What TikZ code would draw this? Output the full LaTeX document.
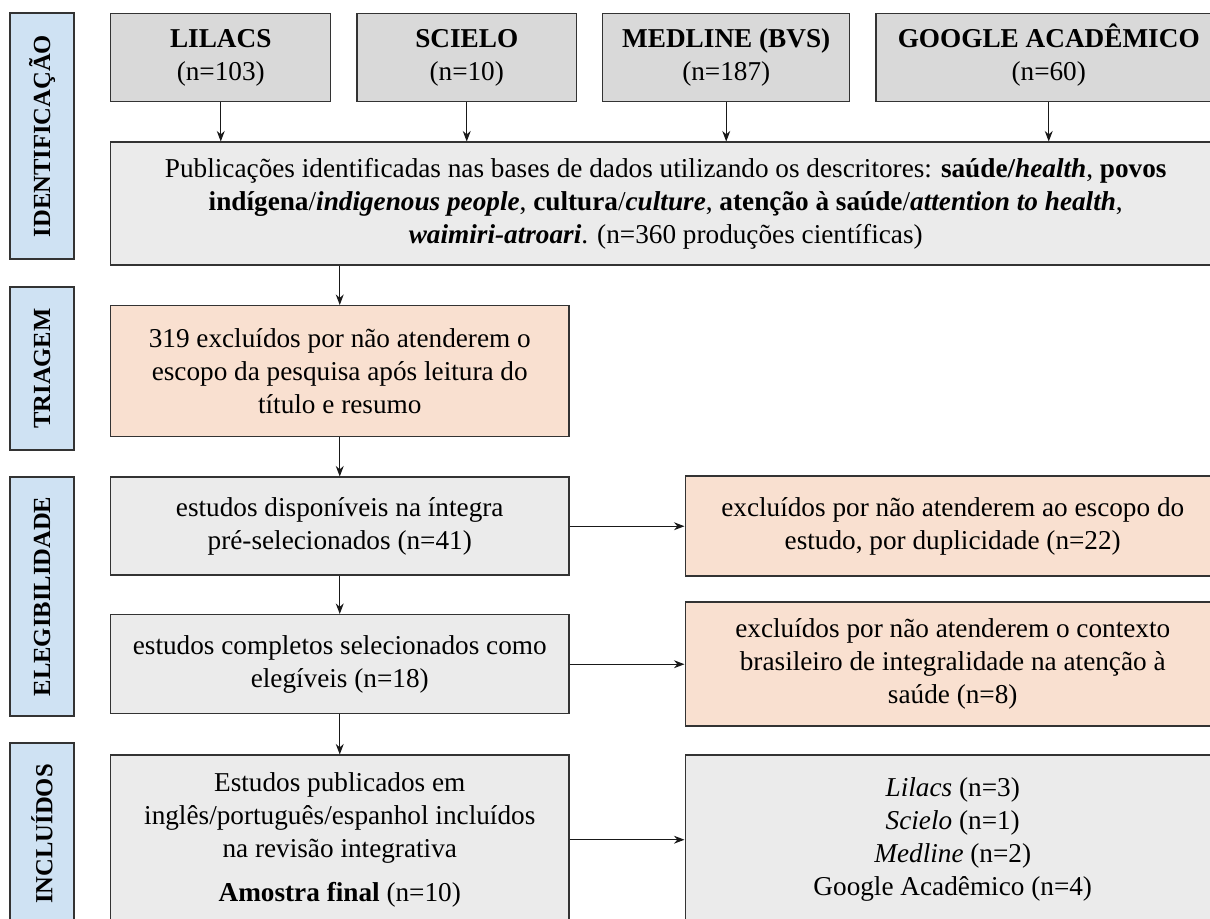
\documentclass[tikz,border=0pt]{standalone}
\usepackage{fontspec}
\setmainfont{Liberation Serif}
\usetikzlibrary{positioning,arrows.meta}

\definecolor{phasefill}{HTML}{CFE2F3}
\definecolor{dbfill}{HTML}{D9D9D9}
\definecolor{stepfill}{HTML}{EBEBEB}
\definecolor{exclfill}{HTML}{F9E0D0}
\definecolor{edgecol}{HTML}{333333}

\begin{document}
\begin{tikzpicture}[
        node distance=0.5cm,
        box/.style={rectangle, draw=edgecol, line width=0.85pt, align=center, inner sep=2pt, font=\fontsize{15.5}{18.8}\selectfont},
        dbbox/.style={box, fill=dbfill, minimum height=1.76cm},
        stepbox/.style={box, fill=stepfill, minimum width=9.16cm},
        exclbox/.style={box, fill=exclfill, minimum width=10.7cm},
        phase/.style={rectangle, draw=edgecol, line width=0.85pt, fill=phasefill, minimum height=1.28cm, rotate=90, font=\bfseries\fontsize{14}{16}\selectfont},
        arrow/.style={-{Stealth[length=6pt,width=4.5pt]}, line width=0.6pt, draw=black!90}
    ]
    \useasboundingbox (0,0) rectangle (24.2,-18.36);

    % Bases de dados
    \node[dbbox, minimum width=4.4cm, anchor=north west] (lil) at (2.2,-0.26) {\textbf{LILACS}\\(n=103)};
    \node[dbbox, minimum width=4.38cm, right=of lil] (sci) {\textbf{SCIELO}\\(n=10)};
    \node[dbbox, minimum width=4.94cm, right=of sci] (med) {\textbf{MEDLINE (BVS)}\\(n=187)};
    \node[dbbox, minimum width=6.9cm, right=of med] (goo) {\textbf{GOOGLE ACAD\smash{Ê}MICO}\\(n=60)};

    % Publicacoes identificadas
    \node[box, fill=stepfill, minimum width=22.2cm, minimum height=2.46cm, below=0.78cm of lil.south west, anchor=north west] (pub) {Publicações identificadas nas bases de dados utilizando os descritores: \textbf{saúde/\textit{health}}, \textbf{povos}\\ \textbf{indígena}/\textbf{\textit{indigenous people}}, \textbf{cultura}/\textbf{\textit{culture}}, \textbf{atenção à saúde}/\textbf{\textit{attention to health}},\\ \textbf{\textit{waimiri-atroari}}. (n=360 produções científicas)};

    % Coluna principal
    \node[stepbox, fill=exclfill, minimum height=2.62cm, below=0.78cm of pub.south west, anchor=north west] (tri) {319 excluídos por não atenderem o\\ escopo da pesquisa após leitura do\\ título e resumo};
    \node[stepbox, minimum height=1.96cm, below=0.78cm of tri.south west, anchor=north west] (el1) {estudos disponíveis na íntegra\\ pré-selecionados (n=41)};
    \node[stepbox, minimum height=1.98cm, below=0.76cm of el1.south west, anchor=north west] (el2) {estudos completos selecionados como\\ elegíveis (n=18)};
    \node[stepbox, minimum height=3.38cm, below=0.8cm of el2.south west, anchor=north west] (inc) {Estudos publicados em\\ inglês/português/espanhol incluídos\\ na revisão integrativa\\[6pt] \textbf{Amostra final} (n=10)};

    % Coluna da direita
    \node[exclbox, minimum height=2cm, right=2.3cm of el1] (ex1) {excluídos por não atenderem ao escopo do\\ estudo, por duplicidade (n=22)};
    \node[exclbox, minimum height=2.48cm, right=2.3cm of el2] (ex2) {excluídos por não atenderem o contexto\\ brasileiro de integralidade na atenção à\\ saúde (n=8)};
    \node[exclbox, fill=stepfill, minimum height=3.38cm, right=2.3cm of inc] (fin) {\textit{Lilacs} (n=3)\\ \textit{Scielo} (n=1)\\ \textit{Medline} (n=2)\\ Google Acadêmico (n=4)};

    % Fases
    \node[phase, minimum width=4.92cm] (fid) at (0.84,-2.72) {IDENTIFICAÇÃO};
    \node[phase, minimum width=3.26cm] (ftr) at (0.84,-7.37) {TRIAGEM};
    \node[phase, minimum width=4.78cm] (fel) at (0.84,-11.93) {ELEGIBILIDADE};
    \node[phase, minimum width=3.64cm] (fin lbl) at (0.84,-16.68) {INCLUÍDOS};

    % Setas
    \foreach \db in {lil,sci,med,goo}
        \draw[arrow] (\db.south) -- (\db.south |- pub.north);
    \draw[arrow] (pub.south -| tri.north) -- (tri.north);
    \draw[arrow] (tri) -- (el1);
    \draw[arrow] (el1) -- (el2);
    \draw[arrow] (el2) -- (inc);
    \draw[arrow] (el1) -- (ex1);
    \draw[arrow] (el2) -- (ex2);
    \draw[arrow] (inc) -- (fin);

\end{tikzpicture}
\end{document}
